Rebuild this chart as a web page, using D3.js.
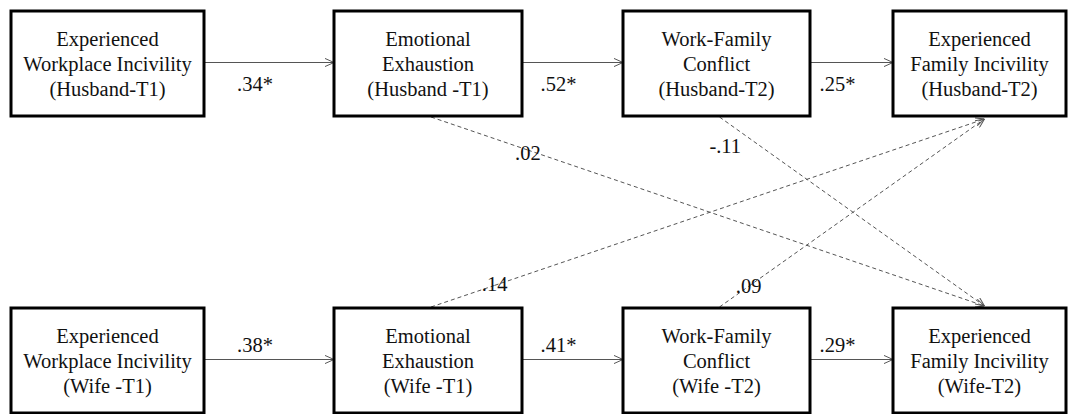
<!DOCTYPE html>
<html>
<head>
<meta charset="utf-8">
<script src="https://cdn.jsdelivr.net/npm/d3@7"></script>
<style>
  body { margin: 0; background: #fff; }
  svg { display: block; }
</style>
</head>
<body>
<script>
// model variables (one per column) and the time tags for each spouse
var roles = [
  ["Experienced", "Workplace Incivility"],
  ["Emotional", "Exhaustion"],
  ["Work-Family", "Conflict"],
  ["Experienced", "Family Incivility"]
];
var husbandTags = ["(Husband-T1)", "(Husband -T1)", "(Husband-T2)", "(Husband-T2)"];
var wifeTags = ["(Wife -T1)", "(Wife -T1)", "(Wife -T2)", "(Wife-T2)"];

// path coefficients within each spouse
var husbandCoefs = [".34*", ".52*", ".25*"];
var wifeCoefs = [".38*", ".41*", ".29*"];

// crossover paths: [from row, from col, to row, to col, coefficient]
var crossPaths = [
  [0, 1, 1, 3, ".02"],
  [0, 2, 1, 3, "-.11"],
  [1, 1, 0, 3, ".14"],
  [1, 2, 0, 3, ".09"]
];

// layout
var W = 1073, H = 414;
var font = "'Liberation Serif', 'Times New Roman', serif";
var colLeft = [11, 334, 623, 893],
    colRight = [204, 522, 810, 1066],
    rowTop = [11, 308],
    boxH = 105;
// where the label sits along each dashed path, and the gap around it
var crossLayout = [
  {t: 0.175, gap: [0.135, 0.23], dx: 0, dy: 3},
  {t: 0.15, gap: [0.06, 0.23], dx: -34, dy: 0},
  {t: 0.115, gap: [0.08, 0.22], dx: 0, dy: -2},
  {t: 0.11, gap: [0.05, 0.215], dx: 0, dy: 0}
];

var svg = d3.select("body").append("svg")
    .attr("width", W)
    .attr("height", H)
    .style("font-family", font);

var defs = svg.append("defs");
defs.append("marker")
    .attr("id", "arrow")
    .attr("viewBox", "0 -5 10 10")
    .attr("refX", 10)
    .attr("refY", 0)
    .attr("markerWidth", 9)
    .attr("markerHeight", 9)
    .attr("markerUnits", "userSpaceOnUse")
    .attr("orient", "auto")
  .append("path")
    .attr("d", "M0,-4.5L10,0L0,4.5")
    .attr("fill", "none")
    .attr("stroke", "#555")
    .attr("stroke-width", 1.1);

var rowY = d3.scaleOrdinal().domain([0, 1]).range(rowTop);
function cx(c) { return (colLeft[c] + colRight[c]) / 2; }
function cy(r) { return rowY(r) + boxH / 2; }

// dashed crossover paths (drawn first so boxes sit on top)
var cross = svg.append("g").attr("class", "cross");
crossPaths.forEach(function(p, i) {
  var L = crossLayout[i];
  var fr = p[0], fc = p[1], tr = p[2], tc = p[3];
  var x0 = cx(fc) + 3,
      y0 = fr === 0 ? rowY(fr) + boxH + 1 : rowY(fr) - 1,
      x1 = cx(tc) + 5,
      y1 = tr === 0 ? rowY(tr) + boxH + 3 : rowY(tr) - 2;
  var pt = d3.interpolateArray([x0, y0], [x1, y1]);
  var a = pt(L.gap[0]), b = pt(L.gap[1]), m = pt(L.t);

  cross.append("line")
      .attr("x1", x0).attr("y1", y0)
      .attr("x2", a[0]).attr("y2", a[1]);
  cross.append("line")
      .attr("x1", b[0]).attr("y1", b[1])
      .attr("x2", x1).attr("y2", y1)
      .attr("marker-end", "url(#arrow)");
  svg.append("text")
      .attr("x", m[0] + L.dx)
      .attr("y", m[1] + L.dy)
      .attr("dy", "0.35em")
      .attr("text-anchor", "middle")
      .attr("fill", "#111")
      .style("font-size", "20.5px")
      .text(p[4]);
});
cross.selectAll("line")
    .attr("stroke", "#555")
    .attr("stroke-width", 1)
    .attr("stroke-dasharray", "4,3");

// solid paths along each row
[husbandCoefs, wifeCoefs].forEach(function(coefs, r) {
  coefs.forEach(function(c, i) {
    var y = cy(r) - 1,
        xa = colRight[i], xb = colLeft[i + 1];
    svg.append("line")
        .attr("x1", xa).attr("y1", y)
        .attr("x2", xb).attr("y2", y)
        .attr("stroke", "#555")
        .attr("stroke-width", 1.1)
        .attr("marker-end", "url(#arrow)");
    svg.append("text")
        .attr("x", (xa + xb) / 2 - 14)
        .attr("y", r === 0 ? y + 21 : y - 15)
        .attr("dy", "0.35em")
        .attr("text-anchor", "middle")
        .attr("fill", "#111")
        .style("font-size", "20.5px")
        .text(c);
  });
});

// boxes
[husbandTags, wifeTags].forEach(function(tags, r) {
  var g = svg.append("g").selectAll("g")
      .data(roles)
    .enter().append("g");

  g.append("rect")
      .attr("x", function(d, i) { return colLeft[i]; })
      .attr("y", rowY(r))
      .attr("width", function(d, i) { return colRight[i] - colLeft[i]; })
      .attr("height", boxH)
      .attr("fill", "#fff")
      .attr("stroke", "#000")
      .attr("stroke-width", 3);

  g.each(function(d, i) {
    var lines = d.concat([tags[i]]);
    d3.select(this).selectAll("text")
        .data(lines)
      .enter().append("text")
        .attr("x", cx(i))
        .attr("y", function(l, k) { return cy(r) + (k - 1) * 25; })
        .attr("dy", "0.35em")
        .attr("text-anchor", "middle")
        .attr("fill", "#111")
        .style("font-size", "20.5px")
        .text(function(l) { return l; });
  });
});
</script>
</body>
</html>
